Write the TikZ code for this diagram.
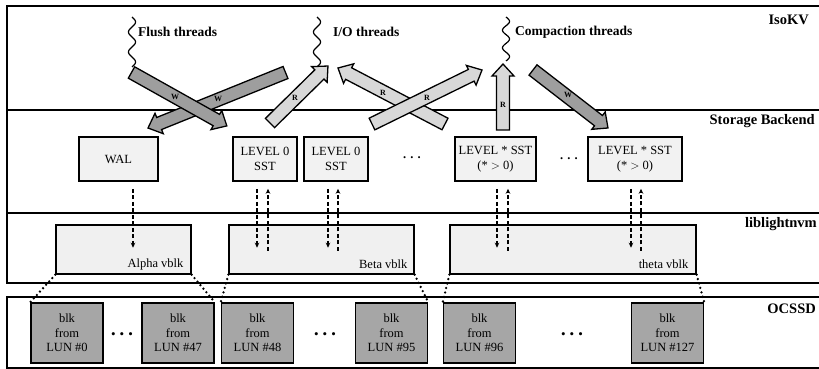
\documentclass[tikz,border=0pt]{standalone}
\usepackage{fontspec}
\setmainfont{Liberation Serif}
\usetikzlibrary{calc,arrows.meta}

\definecolor{sbfill}{RGB}{242,242,242}
\definecolor{vbfill}{RGB}{240,240,240}
\definecolor{blkfill}{RGB}{166,166,166}
\definecolor{wfill}{RGB}{158,158,158}
\definecolor{rfill}{RGB}{216,216,216}

% block arrow from (#1,#2) to the tip (#3,#4), filled with #5
\newcommand\fatarrow[5]{%
  \pgfmathsetmacro\fadx{#3-#1}%
  \pgfmathsetmacro\fady{#4-#2}%
  \pgfmathsetmacro\faang{atan2(-\fady,\fadx)}%
  \pgfmathsetmacro\falen{veclen(\fadx,\fady)}%
  \pgfmathsetmacro\fabase{\falen-12}%
  \begin{scope}[shift={(#1,#2)},rotate=\faang]
    \draw[fatline,fill=#5] (0,-6.5) -- (\fabase,-6.5) -- (\fabase,-11)
      -- (\falen,0) -- (\fabase,11) -- (\fabase,6.5) -- (0,6.5) -- cycle;
  \end{scope}}

% wavy thread mark at x=#1, from y=#2 over a length #3
\newcommand\threadmark[3]{%
  \draw[squig] plot[smooth,domain=0:1,samples=60]
    ({#1+3.5*sin(900*\x)},{#2+#3*\x});}

\begin{document}
\begin{tikzpicture}[x=1pt,y=-1pt,
  band/.style={line width=1.4pt},
  fatline/.style={line width=1.3pt,line join=miter},
  armark/.style={font=\bfseries\fontsize{8}{9}\selectfont,inner sep=0pt},
  layer/.style={font=\bfseries\fontsize{14.5}{16}\selectfont,anchor=east,inner sep=0pt},
  thread/.style={font=\bfseries\fontsize{13.5}{16}\selectfont,anchor=west,inner sep=0pt},
  squig/.style={line width=1.2pt},
  sbox/.style={draw,line width=1.5pt,fill=sbfill,minimum height=44pt,align=center,
    font=\rmfamily\fontsize{12.5}{15}\selectfont,inner sep=1pt},
  vblk/.style={draw,line width=1.2pt,fill=vbfill,minimum height=49pt},
  vlbl/.style={font=\rmfamily\fontsize{12.5}{15}\selectfont,anchor=east,inner sep=0pt},
  blk/.style={draw,line width=1.5pt,fill=blkfill,minimum width=72pt,minimum height=60pt,
    align=center,font=\rmfamily\fontsize{12.5}{14.5}\selectfont,inner sep=1pt},
  dasharr/.style={line width=1.3pt,dash pattern=on 4pt off 2.5pt,
    -{Stealth[length=5pt,width=4.5pt]}},
  dotline/.style={line width=2.6pt,dash pattern=on 0pt off 4.6pt,line cap=round},
  gapdots/.style={font=\fontsize{13}{14}\selectfont,inner sep=0pt},
  elide/.style={font=\bfseries\fontsize{12.5}{15}\selectfont,inner sep=0pt}
]
\useasboundingbox (0,0) rectangle (819,369);

% layer bands
\begin{scope}
  \clip (0,0) rectangle (819,369);
  \draw[band] (7,6) rectangle (840,110);
  \draw[band] (7,110) rectangle (840,213);
  \draw[band,line width=2.4pt] (7,213) -- (840,213);
  \draw[band] (7,213) rectangle (840,283);
  \draw[band] (7,297) rectangle (840,368);
\end{scope}

% layer names
\node[layer] (isokv) at (809,20) {IsoKV};
\node[layer] (backend) at (815,121) {Storage Backend};
\node[layer] (lnvm) at (817,224) {liblightnvm};
\node[layer] (ocssd) at (816,309) {OCSSD};

% threads
\threadmark{132}{17}{50}
\node[thread] (flush) at (138,32) {Flush threads};
\threadmark{317}{17}{50}
\node[thread] (io) at (333,32) {I/O threads};
\threadmark{506}{17}{44}
\node[thread] (compact) at (515,32) {Compaction threads};

% reads and writes between threads and files
\fatarrow{285.5}{72.5}{148}{128}{wfill}
\fatarrow{131.5}{72.5}{227}{126}{wfill}
\fatarrow{270}{123}{328}{66}{rfill}
\fatarrow{445}{124}{338}{68}{rfill}
\fatarrow{372}{124}{482}{70}{rfill}
\fatarrow{503}{130}{503}{64}{rfill}
\fatarrow{533}{70}{608}{128}{wfill}
\node[armark] (mw1) at (175,97) {W};
\node[armark] (mw2) at (218,99) {W};
\node[armark] (mr1) at (295,98) {R};
\node[armark] (mr2) at (383,93) {R};
\node[armark] (mr3) at (427,98) {R};
\node[armark] (mr4) at (503,105) {R};
\node[armark] (mw3) at (568,95) {W};

% storage backend files
\node[sbox,minimum width=79pt] (wal) at (118.5,159) {WAL};
\node[sbox,minimum width=64pt] (l0a) at (265,159) {LEVEL 0\\SST};
\node[sbox,minimum width=64pt] (l0b) at (336,159) {LEVEL 0\\SST};
\node[elide] (gapS1) at (412,158) {. . .};
\node[sbox,minimum width=81pt] (lsa) at (495.5,159) {LEVEL * SST\\(* $>$ 0)};
\node[elide] (gapS2) at (569,159) {. . .};
\node[sbox,minimum width=94pt] (lsb) at (635,159) {LEVEL * SST\\(* $>$ 0)};

% virtual blocks
\node[vblk,minimum width=135pt] (alpha) at (123.5,249.5) {};
\node[vlbl] (alphal) at ($(alpha.south east)+(-8,-10)$) {Alpha vblk};
\node[vblk,minimum width=185pt] (beta) at (321.5,249.5) {};
\node[vlbl] (betal) at ($(beta.south east)+(-7,-10)$) {Beta vblk};
\node[vblk,minimum width=246pt] (theta) at (573,249.5) {};
\node[vlbl] (thetal) at ($(theta.south east)+(-8,-10)$) {theta vblk};

% file <-> vblk traffic
\draw[dasharr] ($(wal.south)+(14.5,7)$) -- ($(wal.south)+(14.5,66)$);
\draw[dasharr] ($(l0a.south)+(-8,7)$) -- ($(l0a.south)+(-8,66)$);
\draw[dasharr] ($(l0a.south)+(3,69)$) -- ($(l0a.south)+(3,7)$);
\draw[dasharr] ($(l0b.south)+(-8,7)$) -- ($(l0b.south)+(-8,66)$);
\draw[dasharr] ($(l0b.south)+(2,69)$) -- ($(l0b.south)+(2,7)$);
\draw[dasharr] ($(lsa.south)+(1.5,7)$) -- ($(lsa.south)+(1.5,66)$);
\draw[dasharr] ($(lsa.south)+(12.5,69)$) -- ($(lsa.south)+(12.5,7)$);
\draw[dasharr] ($(lsb.south)+(-4,7)$) -- ($(lsb.south)+(-4,66)$);
\draw[dasharr] ($(lsb.south)+(6,69)$) -- ($(lsb.south)+(6,7)$);

% physical blocks
\node[blk] (b0) at (67,333) {blk\\from\\LUN \#0};
\node[gapdots] (gapA) at (122,336) {•\hspace{4pt}•\hspace{4pt}•};
\node[blk] (b47) at (178,333) {blk\\from\\LUN \#47};
\node[blk] (b48) at (257.5,333) {blk\\from\\LUN \#48};
\node[gapdots] (gapB) at (325,336) {•\hspace{4pt}•\hspace{4pt}•};
\node[blk] (b95) at (391.5,333) {blk\\from\\LUN \#95};
\node[blk] (b96) at (479.5,333) {blk\\from\\LUN \#96};
\node[gapdots] (gapC) at (572,336) {•\hspace{4pt}•\hspace{4pt}•};
\node[blk] (b127) at (667.5,333) {blk\\from\\LUN \#127};

% vblk spans
\draw[dotline] (alpha.south west) -- (b0.north west);
\draw[dotline] (alpha.south east) -- (b47.north east);
\draw[dotline] (beta.south west) -- (b48.north west);
\draw[dotline] (beta.south east) -- (b95.north east);
\draw[dotline] (theta.south west) -- (b96.north west);
\draw[dotline] (theta.south east) -- (b127.north east);
\end{tikzpicture}
\end{document}
